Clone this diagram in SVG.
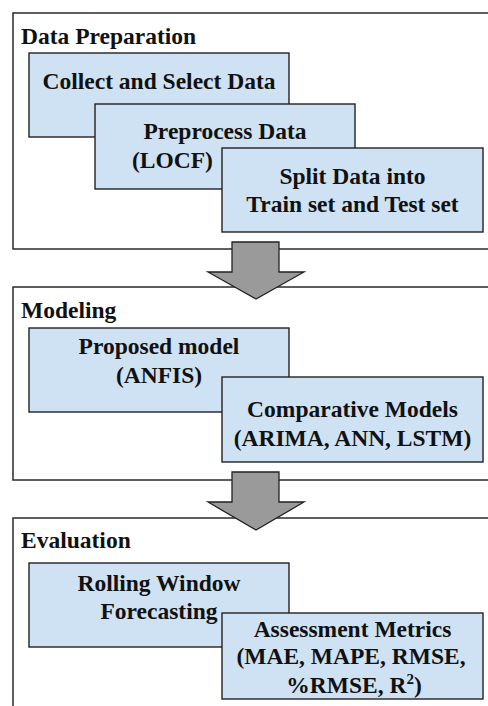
<svg xmlns="http://www.w3.org/2000/svg" width="488" height="706" viewBox="0 0 488 706">
<style>
.frame{fill:#ffffff;stroke:#2a2a2a;stroke-width:1.5}
.box{fill:#cfe2f3;stroke:#222222;stroke-width:1.4}
.arrow{fill:#9a9a9a;stroke:#222222;stroke-width:1.3;stroke-linejoin:miter}
text{font-family:'Liberation Serif','Times New Roman',serif;font-weight:bold;font-size:23.5px;fill:#111111}
.c{text-anchor:middle}
</style>
<rect width="488" height="706" fill="#ffffff"/>
<g id="stage-data-preparation">
<rect class="frame" x="13" y="13" width="500" height="236"/>
<text x="21" y="44">Data Preparation</text>
</g>
<g id="stage-modeling">
<rect class="frame" x="13" y="287" width="500" height="193"/>
<text x="21" y="318">Modeling</text>
</g>
<g id="stage-evaluation">
<rect class="frame" x="13" y="518" width="500" height="220"/>
<text x="21" y="548">Evaluation</text>
</g>
<g id="collect">
<rect class="box" x="29" y="53" width="260" height="84"/>
<text class="c" x="159" y="89">Collect and Select Data</text>
</g>
<g id="preprocess">
<rect class="box" x="95" y="104" width="260" height="85"/>
<text class="c" x="225" y="139">Preprocess Data</text>
<text x="132" y="168">(LOCF)</text>
</g>
<g id="split">
<rect class="box" x="222" y="148" width="261" height="84"/>
<text class="c" x="352.5" y="184">Split Data into</text>
<text class="c" x="352.5" y="212">Train set and Test set</text>
</g>
<g id="proposed">
<rect class="box" x="29" y="328" width="260" height="84"/>
<text class="c" x="159" y="354">Proposed model</text>
<text class="c" x="159" y="383">(ANFIS)</text>
</g>
<g id="comparative">
<rect class="box" x="222" y="377" width="261" height="85"/>
<text class="c" x="352.5" y="417">Comparative Models</text>
<text class="c" x="352.5" y="446">(ARIMA, ANN, LSTM)</text>
</g>
<g id="rolling">
<rect class="box" x="29" y="563" width="260" height="84"/>
<text class="c" x="159" y="591">Rolling Window</text>
<text class="c" x="159" y="619">Forecasting</text>
</g>
<g id="metrics">
<rect class="box" x="222" y="613" width="261" height="86"/>
<text class="c" x="352.5" y="637">Assessment Metrics</text>
<text class="c" x="351" y="664">(MAE, MAPE, RMSE,</text>
<text class="c" x="354" y="693">%RMSE, R<tspan dy="-9" font-size="15">2</tspan><tspan dy="9">)</tspan></text>
</g>
<g id="connectors">
<path class="arrow" d="M232 242 H279 V272 H304 L256 299 L208 272 H232 Z"/>
<path class="arrow" d="M232 472 H279 V502 H304 L256 530 L208 502 H232 Z"/>
</g>
</svg>
